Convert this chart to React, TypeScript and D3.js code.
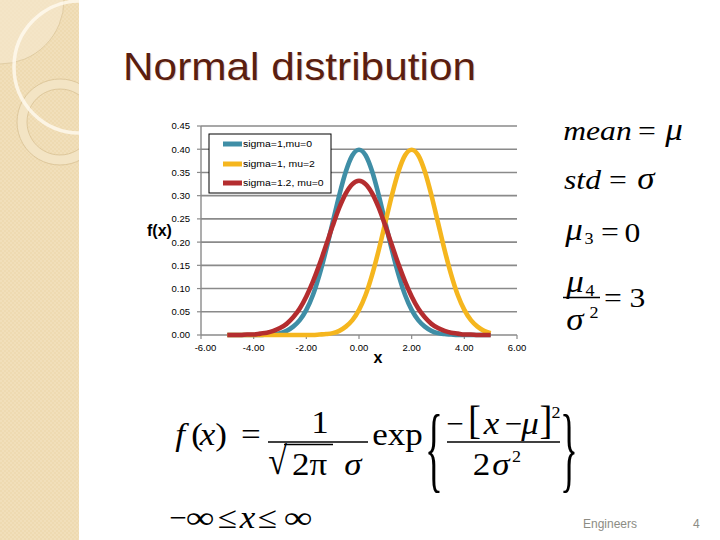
import React from "react";
import * as d3 from "d3";

// sample points
const xValues = [
  -5, -4.75, -4.5, -4.25, -4, -3.75, -3.5, -3.25, -3, -2.75, -2.5, -2.25, -2, -1.75, -1.5, -1.25, -1, -0.75, -0.5, -0.25,
  0, 0.25, 0.5, 0.75, 1, 1.25, 1.5, 1.75, 2, 2.25, 2.5, 2.75, 3, 3.25, 3.5, 3.75, 4, 4.25, 4.5, 4.75, 5,
];
const sigma1mu0 = [
  0, 0, 0, 0, 0, 0, 0.001, 0.002, 0.004, 0.009, 0.018, 0.032, 0.054, 0.086, 0.13, 0.183, 0.242, 0.301, 0.352, 0.387,
  0.399, 0.387, 0.352, 0.301, 0.242, 0.183, 0.13, 0.086, 0.054, 0.032, 0.018, 0.009, 0.004, 0.002, 0.001, 0, 0, 0, 0, 0, 0,
];
const sigma1mu2 = [
  0, 0, 0, 0, 0, 0, 0, 0, 0, 0, 0, 0, 0, 0, 0.001, 0.002, 0.004, 0.009, 0.018, 0.032,
  0.054, 0.086, 0.13, 0.183, 0.242, 0.301, 0.352, 0.387, 0.399, 0.387, 0.352, 0.301, 0.242, 0.183, 0.13, 0.086, 0.054, 0.032, 0.018, 0.009, 0.004,
];
const sigma12mu0 = [
  0, 0, 0, 0.001, 0.001, 0.003, 0.005, 0.009, 0.015, 0.024, 0.038, 0.057, 0.083, 0.115, 0.152, 0.193, 0.235, 0.274, 0.305, 0.325,
  0.332, 0.325, 0.305, 0.274, 0.235, 0.193, 0.152, 0.115, 0.083, 0.057, 0.038, 0.024, 0.015, 0.009, 0.005, 0.003, 0.001, 0.001, 0, 0, 0,
];
const seriesNames = ["sigma=1,mu=0", "sigma=1, mu=2", "sigma=1.2, mu=0"];
const seriesColors = ["#3f8ea6", "#f5b61e", "#b42d2f"];
const xTicks = [-6, -4, -2, 0, 2, 4, 6];
const yTicks = [0, 0.05, 0.1, 0.15, 0.2, 0.25, 0.3, 0.35, 0.4, 0.45];

const SANS = "'Liberation Sans', Arial, sans-serif";
const SERIF = "'Liberation Serif', 'Times New Roman', serif";

// math piece, placed by its centre, a bit wider than the font
function M({ x, y, size = 28, it = false, sx = 1.13, sy = 1, children }: any) {
  return (
    <g transform={`translate(${x},${y}) scale(${sx},${sy})`}>
      <text fontFamily={SERIF} fontSize={size} fontStyle={it ? "italic" : "normal"} textAnchor="middle" fill="#000">
        {children}
      </text>
    </g>
  );
}

function Decor() {
  return (
    <g>
      <defs>
        <pattern id="tex" width="4" height="4" patternUnits="userSpaceOnUse">
          <rect width="4" height="4" fill="#eedab1" />
          <rect width="2" height="2" fill="#f1dfba" />
          <rect x="2" y="2" width="2" height="2" fill="#f1dfba" />
        </pattern>
        <clipPath id="strip">
          <rect x="0" y="0" width="79" height="540" />
        </clipPath>
      </defs>
      <rect x="0" y="0" width="79" height="540" fill="url(#tex)" />
      <g clipPath="url(#strip)">
        <circle cx="0" cy="0" r="64" fill="#f6e9d0" fillOpacity="0.6" stroke="#d8c397" strokeWidth="0.7" />
        <path
          d="M60,79 a43,43 0 1,0 0.01,0 Z M60,89 a33,33 0 1,1 -0.01,0 Z"
          fill="#f3e4c4"
          fillRule="evenodd"
          stroke="#d4bb8c"
          strokeWidth="0.7"
        />
        <circle cx="80" cy="67" r="66" fill="none" stroke="#fffaf0" strokeWidth="3.5" strokeOpacity="0.8" />
      </g>
    </g>
  );
}

function Chart() {
  const x = d3.scaleLinear().domain([-6, 6]).range([201, 517]);
  const y = d3.scaleLinear().domain([0, 0.45]).range([335, 126]);
  const fmt = (v: number) => d3.format(".2f")(v).replace("−", "-");
  const series = [sigma1mu0, sigma1mu2, sigma12mu0];
  const line = d3
    .line<number>()
    .x((d, i) => x(xValues[i]))
    .y((d) => y(d))
    .curve(d3.curveMonotoneX);

  const lg = { x: 209, y: 134, w: 122, h: 59 };
  const rowY = [144, 164, 183];

  return (
    <g fontFamily={SANS}>
      {yTicks.map((t) => (
        <g key={t}>
          {t > 0 && <line x1={x(-6)} x2={x(6)} y1={y(t)} y2={y(t)} stroke="#8a8a8a" strokeWidth={1.6} />}
          <line x1={x(-6) - 4} x2={x(-6)} y1={y(t)} y2={y(t)} stroke="#8a8a8a" strokeWidth={1.2} />
          <text x={190} y={y(t) + 3.4} fontSize={9.5} textAnchor="end" fill="#000">
            {fmt(t)}
          </text>
        </g>
      ))}
      <line x1={x(-6)} x2={x(-6)} y1={y(0.45)} y2={y(0)} stroke="#8a8a8a" strokeWidth={1.4} />
      <line x1={x(-6)} x2={x(6)} y1={y(0)} y2={y(0)} stroke="#8a8a8a" strokeWidth={1.6} />
      {xTicks.map((t) => (
        <g key={t}>
          <line x1={x(t)} x2={x(t)} y1={y(0)} y2={y(0) + 4} stroke="#8a8a8a" strokeWidth={1.2} />
          <text x={Math.max(x(t), x(-6) + 4.5)} y={350.5} fontSize={9.5} textAnchor="middle" fill="#000">
            {fmt(t)}
          </text>
        </g>
      ))}

      {series.map((s, i) => (
        <path key={i} d={line(s) || ""} fill="none" stroke={seriesColors[i]} strokeWidth={4.6} strokeLinejoin="round" />
      ))}

      <rect x={lg.x} y={lg.y} width={lg.w} height={lg.h} fill="#fff" stroke="#000" strokeWidth={1} />
      {seriesNames.map((n, i) => (
        <g key={n}>
          <line x1={223} x2={242} y1={rowY[i]} y2={rowY[i]} stroke={seriesColors[i]} strokeWidth={5} />
          <g transform={`translate(243,${rowY[i] + 3.4}) scale(1.1,1)`}>
            <text fontSize={9.5} fill="#000">
              {n}
            </text>
          </g>
        </g>
      ))}

      <text x={147} y={236} fontSize={16} fontWeight="bold" fill="#000">
        f(x)
      </text>
      <text x={378} y={363} fontSize={16} fontWeight="bold" textAnchor="middle" fill="#000">
        x
      </text>
    </g>
  );
}

function Formulas() {
  return (
    <g>
      {/* moments on the right */}
      <M x={597.5} y={140} it>mean</M>
      <M x={647} y={140}>=</M>
      <M x={674} y={140} size={31} it>μ</M>

      <M x={582.5} y={189} it>std</M>
      <M x={618} y={189}>=</M>
      <M x={646} y={189} size={31} it>σ</M>

      <M x={574} y={240} size={31} it>μ</M>
      <M x={589} y={244} size={16}>3</M>
      <M x={610} y={241}>=</M>
      <M x={632.5} y={242}>0</M>

      <M x={575} y={292} size={31} it>μ</M>
      <M x={590} y={296} size={16}>4</M>
      <line x1={563} x2={600} y1={297.5} y2={297.5} stroke="#000" strokeWidth={1.3} />
      <M x={575} y={330} size={31} it>σ</M>
      <M x={594} y={318} size={16}>2</M>
      <M x={613} y={307}>=</M>
      <M x={637.5} y={307}>3</M>

      {/* density */}
      <M x={180} y={445} size={31} it>f</M>
      <M x={197} y={445} size={31}>(</M>
      <M x={207.5} y={445} size={31} it>x</M>
      <M x={221} y={445} size={31}>)</M>
      <M x={251} y={445} size={31}>=</M>
      <M x={320} y={433} size={31}>1</M>
      <line x1={268} x2={368} y1={442} y2={442} stroke="#000" strokeWidth={1.3} />
      <M x={277.5} y={474} size={34} sx={1} sy={1.15}>√</M>
      <line x1={284} x2={333} y1={444.5} y2={444.5} stroke="#000" strokeWidth={1.3} />
      <M x={309.5} y={475} size={31}>2π</M>
      <M x={353} y={475} size={31} it>σ</M>
      <M x={397.5} y={445} size={31}>exp</M>
      <M x={434} y={480} size={31} sx={1.2} sy={3.1}>{"{"}</M>
      <M x={455} y={434} size={31} sx={1}>−</M>
      <M x={474.5} y={434} size={31} sx={1.25} sy={1.3}>[</M>
      <M x={491.5} y={434} size={31} it>x</M>
      <M x={513.5} y={434} size={31} sx={1}>−</M>
      <M x={530} y={434} size={31} it>μ</M>
      <M x={546} y={434} size={31} sx={1.25} sy={1.3}>]</M>
      <M x={556} y={418} size={16}>2</M>
      <line x1={447} x2={560} y1={442} y2={442} stroke="#000" strokeWidth={1.3} />
      <M x={481.5} y={475} size={31}>2</M>
      <M x={501} y={475} size={31} it>σ</M>
      <M x={516.5} y={462} size={16}>2</M>
      <M x={569} y={480} size={31} sx={1.2} sy={3.1}>{"}"}</M>

      <M x={178} y={528} size={31} sx={1}>−</M>
      <M x={200} y={528} size={31} sx={1.3}>∞</M>
      <M x={227.5} y={528} size={31}>≤</M>
      <M x={247.5} y={528} size={31} it>x</M>
      <M x={267.5} y={528} size={31}>≤</M>
      <M x={298} y={528} size={31} sx={1.3}>∞</M>
    </g>
  );
}

export default function App() {
  return (
    <svg
      width={720}
      height={540}
      viewBox="0 0 720 540"
      style={{ position: "absolute", left: 0, top: 0, display: "block", background: "#fff" }}
    >
      <rect width={720} height={540} fill="#fff" />
      <Decor />
      <text x={124} y={81} fontFamily={SANS} fontSize={38} textLength={353} lengthAdjust="spacingAndGlyphs" fill="#f0dcd0">
        Normal distribution
      </text>
      <text x={123} y={80} fontFamily={SANS} fontSize={38} textLength={353} lengthAdjust="spacingAndGlyphs" fill="#5a1e10">
        Normal distribution
      </text>
      <Chart />
      <Formulas />
      <text x={583} y={527.5} fontFamily={SANS} fontSize={12} fill="#8c8c84">
        Engineers
      </text>
      <text x={693} y={527.5} fontFamily={SANS} fontSize={12} fill="#8c8c84">
        4
      </text>
    </svg>
  );
}
